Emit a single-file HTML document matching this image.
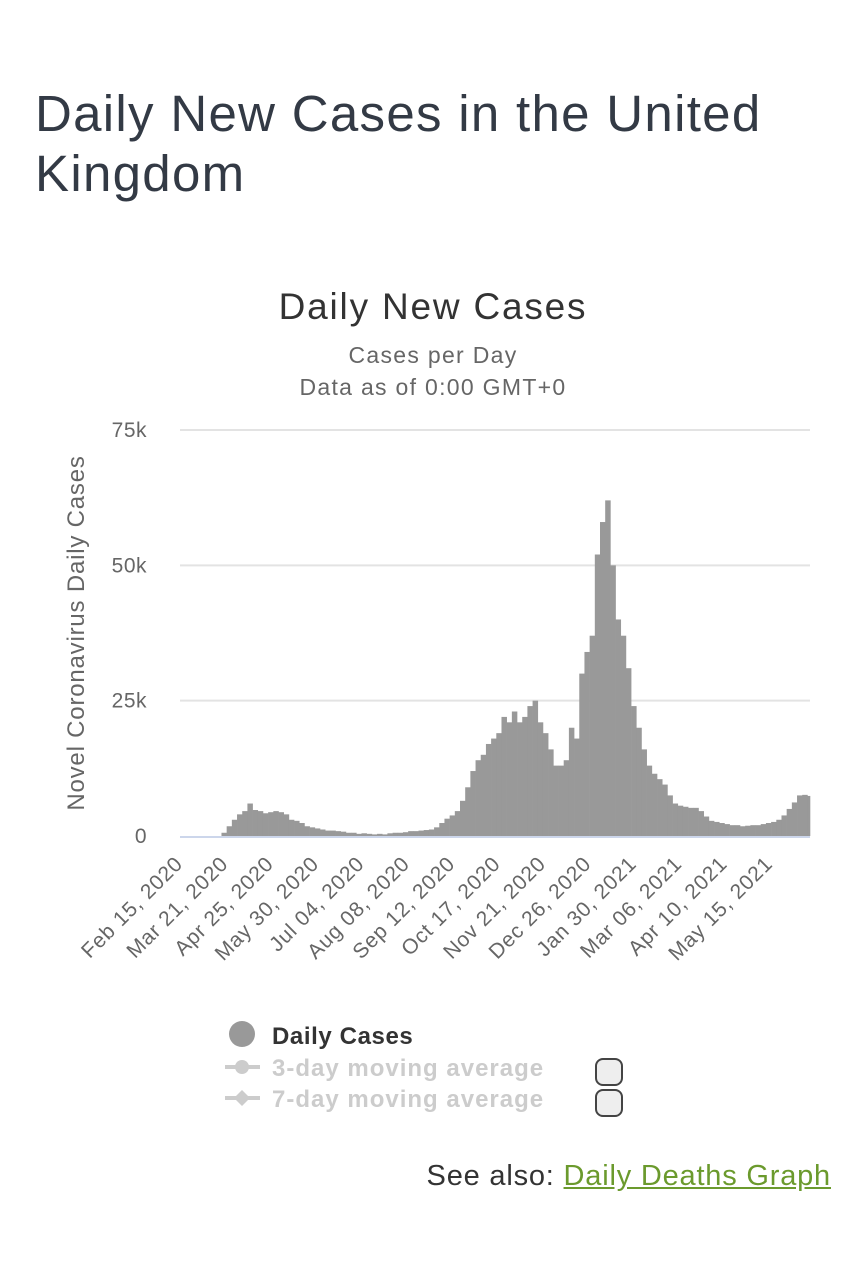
<!DOCTYPE html>
<html><head><meta charset="utf-8"><style>
body{margin:0;background:#fff;width:866px;height:1280px;overflow:hidden;font-family:"Liberation Sans",sans-serif;}
#title{position:absolute;left:35px;top:84px;font-size:51px;letter-spacing:1.3px;line-height:60px;color:#333a45;margin:0;font-weight:normal;width:820px}
#see{position:absolute;right:35px;top:1160px;font-size:29px;letter-spacing:0.8px;color:#333}
#see a{color:#6b9a2d;text-decoration:underline}
</style></head><body>
<h1 id="title">Daily New Cases in the United Kingdom</h1>
<svg id="chart" width="866" height="1280" style="position:absolute;left:0;top:0" xmlns="http://www.w3.org/2000/svg" font-family="Liberation Sans, sans-serif"></svg>
<div id="see">See also: <a>Daily Deaths Graph</a></div>
<script>
const yTicks=[0,25000,50000,75000];
const yTickLabels=["0","25k","50k","75k"];
const xTickLabels=["Feb 15, 2020","Mar 21, 2020","Apr 25, 2020","May 30, 2020","Jul 04, 2020","Aug 08, 2020","Sep 12, 2020","Oct 17, 2020","Nov 21, 2020","Dec 26, 2020","Jan 30, 2021","Mar 06, 2021","Apr 10, 2021","May 15, 2021"];
const xTickDays=[0,35,70,105,140,175,210,245,280,315,350,385,420,455];
const binDays=4;
// cases (thousands), 4-day bins starting Feb 15, 2020
const casesK=[0,0,0,0,0,0,0,0,0.6,1.8,3.0,4.0,4.6,6.0,4.8,4.6,4.2,4.4,4.6,4.4,4.0,3.0,2.8,2.4,1.8,1.6,1.4,1.2,1.0,1.0,0.9,0.8,0.6,0.6,0.4,0.5,0.4,0.3,0.4,0.3,0.5,0.6,0.6,0.7,0.9,0.9,1.0,1.1,1.2,1.6,2.4,3.2,3.8,4.6,6.5,9,12,14,15,17,18,19,22,21,23,21,22,24,25,21,19,16,13,13,14,20,18,30,34,37,52,58,62,50,40,37,31,24,20,16,13,11.5,10.5,9.5,7.5,6,5.6,5.4,5.2,5.2,4.6,3.6,2.8,2.6,2.4,2.2,2.0,2.0,1.8,1.9,2.0,2.0,2.2,2.4,2.6,3.0,3.8,5.0,6.2,7.5,7.6,7.4];
const NS="http://www.w3.org/2000/svg";
const svg=document.getElementById('chart');
const L=180,R=810,Y0=836,Y75=430,totalDays=486;
const xs=d=>L+d*(R-L)/totalDays;
const ys=v=>Y0-v*(Y0-Y75)/75000;
function mk(tag,attrs,txt){const e=document.createElementNS(NS,tag);for(const k in attrs)e.setAttribute(k,attrs[k]);if(txt!==undefined)e.textContent=txt;svg.appendChild(e);return e;}
let t;
t=mk('text',{x:433,y:319,'text-anchor':'middle','font-size':37,'letter-spacing':1.8,fill:'#333'},'Daily New Cases');

t=mk('text',{x:433,y:363,'text-anchor':'middle','font-size':23,'letter-spacing':1.3,fill:'#666'},'Cases per Day');

t=mk('text',{x:433,y:395,'text-anchor':'middle','font-size':23,'letter-spacing':1.3,fill:'#666'},'Data as of 0:00 GMT+0');

t=mk('text',{x:0,y:0,'text-anchor':'middle','font-size':24,'letter-spacing':0.8,fill:'#666',transform:'translate(84,633) rotate(-90)'},'Novel Coronavirus Daily Cases');

yTicks.forEach((v,i)=>{
  if(i>0){const g=mk('line',{x1:L,x2:R,y1:ys(v),y2:ys(v),stroke:'#e3e3e3','stroke-width':2});
  }
  const tl=mk('text',{x:147,y:ys(v)+7,'text-anchor':'end','font-size':21,'letter-spacing':0.5,fill:'#666'},yTickLabels[i]);
  
});
casesK.forEach((v,i)=>{
  const x0=xs(i*binDays),x1=Math.min(xs((i+1)*binDays),R);
  if(v<=0)return;
  const b=mk('rect',{x:x0,y:ys(v*1000),width:x1-x0+0.3,height:Y0-ys(v*1000),fill:'#999'});
  
});
const ax=mk('line',{x1:L,x2:R,y1:Y0+1,y2:Y0+1,stroke:'#ccd6eb','stroke-width':2});

xTickLabels.forEach((s,i)=>{
  const x=xs(xTickDays[i])+4;
  const tl=mk('text',{x:0,y:0,'text-anchor':'end','font-size':21,'letter-spacing':0.8,fill:'#666',transform:`translate(${x},${865}) rotate(-45)`},s);
  
});
// legend
let c=mk('circle',{cx:242,cy:1034,r:13,fill:'#999'});

t=mk('text',{x:272,y:1044,'font-size':24,'letter-spacing':0.6,'font-weight':'bold',fill:'#333'},'Daily Cases');

const legs=[['3-day moving average',1067,'circle'],['7-day moving average',1098,'diamond']];
legs.forEach(l=>{
  const ln=mk('line',{x1:225,x2:260,y1:l[1],y2:l[1],stroke:'#ccc','stroke-width':4});
  
  const m=l[2]==='circle'?mk('circle',{cx:242,cy:l[1],r:7,fill:'#ccc'}):mk('path',{d:`M242 ${l[1]-8}L250 ${l[1]}L242 ${l[1]+8}L234 ${l[1]}Z`,fill:'#ccc'});
  
  const tx=mk('text',{x:272,y:l[1]+9,'font-size':24,'letter-spacing':1,'font-weight':'bold',fill:'#ccc'},l[0]);
  
  const cb=mk('rect',{x:596,y:l[1]-8,width:26,height:26,rx:7,fill:'#eee',stroke:'#444','stroke-width':2});
  
});
</script>
</body></html>
